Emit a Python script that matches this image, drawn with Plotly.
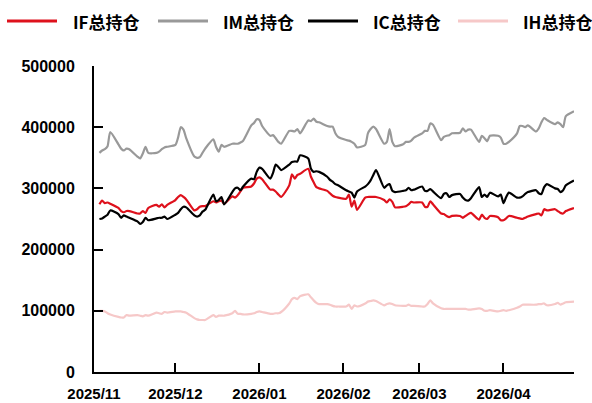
import pandas as pd
import plotly.graph_objects as go

# trading dates (weekdays) Nov 3 2025 .. Apr 27 2026
dates = pd.bdate_range("2025-11-03", "2026-04-27")

# open interest, in thousand lots, month by month
IF_k = (
    [274, 280, 276, 277, 275, 268, 263, 261, 263, 263, 259, 259, 263, 260, 268, 273, 270, 274, 269, 273]
    + [281, 286, 289, 286, 282, 264, 266, 270, 271, 271, 279, 277, 279, 280, 275, 287, 285, 289, 295, 301, 303, 308, 316]
    + [318, 315, 298, 298, 295, 290, 286, 305, 323, 316, 322, 324, 332, 319, 310, 302, 300, 296, 292, 288, 286, 285]
    + [283, 290, 270, 280, 265, 285, 286, 286, 286, 286, 281, 277, 282, 278, 269, 270, 271, 274, 278, 277]
    + [277, 270, 270, 279, 274, 259, 258, 255, 253, 255, 255, 252, 255, 258, 260, 249, 257, 252, 250, 255, 253, 248]
    + [248, 251, 255, 252, 251, 250, 252, 254, 258, 259, 256, 266, 264, 266, 263, 260, 259, 263, 268]
)
IM_k = (
    [358, 362, 364, 369, 392, 372, 365, 362, 365, 364, 352, 349, 357, 368, 358, 358, 360, 364, 367, 368]
    + [371, 383, 400, 396, 382, 352, 350, 351, 358, 365, 380, 368, 360, 371, 368, 373, 373, 373, 375, 378, 403, 407, 413]
    + [412, 402, 386, 387, 382, 376, 373, 394, 394, 393, 397, 390, 411, 410, 414, 409, 408, 402, 401, 401, 390, 384]
    + [379, 378, 376, 373, 367, 371, 390, 397, 401, 397, 373, 376, 397, 376, 369, 372, 376, 376, 378, 383]
    + [390, 394, 394, 406, 404, 379, 384, 386, 387, 390, 391, 398, 393, 396, 396, 376, 386, 382, 377, 386, 386, 383]
    + [373, 373, 376, 390, 402, 402, 400, 403, 393, 398, 408, 415, 412, 405, 408, 405, 400, 418, 426]
)
IC_k = (
    [250, 251, 254, 257, 264, 258, 252, 256, 254, 252, 246, 242, 245, 252, 248, 251, 252, 252, 254, 250]
    + [257, 260, 266, 270, 269, 256, 254, 256, 262, 265, 290, 279, 281, 286, 274, 294, 300, 301, 297, 303, 316, 315, 327]
    + [334, 332, 316, 325, 339, 335, 330, 339, 343, 344, 344, 354, 349, 332, 327, 328, 327, 319, 314, 311, 307, 305]
    + [297, 295, 293, 285, 295, 303, 307, 313, 322, 330, 301, 305, 307, 296, 294, 296, 297, 301, 297, 298]
    + [303, 296, 296, 299, 295, 284, 291, 292, 286, 289, 291, 285, 281, 280, 284, 302, 286, 290, 286, 293, 287, 290]
    + [276, 286, 293, 285, 285, 287, 291, 294, 297, 292, 291, 302, 307, 300, 299, 294, 297, 305, 313]
)
IH_k = (
    [100, 100, 99, 96, 94, 90, 89, 89, 93, 92, 93, 92, 91, 93, 92, 97, 96, 95, 98, 97]
    + [99, 99, 99, 98, 97, 88, 86, 85, 85, 85, 93, 90, 92, 92, 92, 96, 100, 95, 95, 94, 95, 96, 98]
    + [99, 98, 95, 95, 96, 96, 98, 112, 119, 121, 119, 124, 127, 122, 117, 113, 111, 111, 110, 108, 107, 107]
    + [107, 110, 103, 109, 107, 112, 115, 116, 117, 116, 109, 111, 112, 111, 109, 108, 108, 110, 108, 108]
    + [107, 107, 111, 117, 112, 104, 103, 103, 103, 103, 103, 103, 103, 102, 102, 104, 103, 100, 100, 101, 99, 100]
    + [101, 100, 101, 105, 107, 110, 110, 110, 110, 111, 111, 112, 109, 111, 113, 110, 112, 114, 115]
)

series_names = ["IF总持仓", "IM总持仓", "IC总持仓", "IH总持仓"]
series_vals = [IF_k, IM_k, IC_k, IH_k]
colors = ["#DE111C", "#999999", "#000000", "#F6C8C8"]

tick_dates = ["2025-11-01", "2025-12-01", "2026-01-01", "2026-02-01", "2026-03-01", "2026-04-01", "2026-04-27"]
tick_text = ["2025/11", "2025/12", "2026/01", "2026/02", "2026/03", "2026/04", ""]
y_ticks = [0, 100000, 200000, 300000, 400000, 500000]

fig = go.Figure()
order = [3, 1, 0, 2]
for i in order:
    fig.add_trace(go.Scatter(
        x=dates, y=[v * 1000 for v in series_vals[i]], mode="lines", name=series_names[i],
        line=dict(color=colors[i], width=2.2, shape="spline", smoothing=0.6),
        showlegend=False, hoverinfo="skip",
    ))

W, H = 592, 403
L, R, T, B = 94, 18, 66, 31
pw, ph = W - L - R, H - T - B

def px_x(px):
    return (px - L) / pw

def px_y(py):
    return (H - B - py) / ph

leg_line_x = [7, 158, 308, 458]
leg_text_x = [71, 221, 371, 521]
leg_y = 21
shapes = []
annotations = []
for k in range(4):
    shapes.append(dict(type="line", xref="paper", yref="paper",
                       x0=px_x(leg_line_x[k]), x1=px_x(leg_line_x[k] + 50),
                       y0=px_y(leg_y), y1=px_y(leg_y),
                       line=dict(color=colors[k], width=3)))
    annotations.append(dict(text="<b>" + series_names[k] + "</b>", xref="paper", yref="paper",
                            x=px_x(leg_text_x[k]), y=px_y(leg_y), xanchor="left", yanchor="middle",
                            showarrow=False,
                            font=dict(family="Noto Sans CJK SC", size=17, color="#000000")))

y_font = dict(family="Liberation Sans", size=16, color="#000000", weight="bold")
x_font = dict(family="Liberation Sans", size=15, color="#000000", weight="bold")

fig.update_layout(
    width=W, height=H,
    margin=dict(l=L, r=R, t=T, b=B, pad=0, autoexpand=False),
    paper_bgcolor="white", plot_bgcolor="white",
    shapes=shapes, annotations=annotations,
    showlegend=False, hovermode=False,
    font=dict(family="Liberation Sans", size=16, color="#000000"),
)
fig.update_xaxes(
    type="date", range=["2025-11-01", "2026-04-27"],
    tickvals=tick_dates, ticktext=tick_text,
    ticks="inside", ticklen=9, tickwidth=1.5, tickcolor="#000000",
    showline=True, linecolor="#000000", linewidth=2,
    showgrid=False, zeroline=False, automargin=False,
    tickfont=x_font,
    ticklabelstandoff=7,
)
fig.update_yaxes(
    range=[0, 500000], tickvals=y_ticks, ticktext=[str(v) for v in y_ticks],
    ticks="inside", ticklen=9, tickwidth=1.5, tickcolor="#000000",
    showline=True, linecolor="#000000", linewidth=2,
    showgrid=False, zeroline=False, automargin=False,
    tickfont=y_font,
    ticklabelstandoff=14,
)

fig.write_html("out.html", config={"displayModeBar": False},
               post_script="document.body.style.margin='0';")
